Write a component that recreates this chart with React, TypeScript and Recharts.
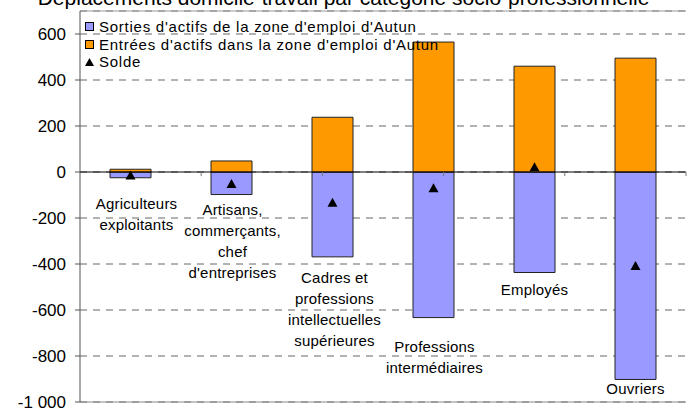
import React from 'react';
import { ComposedChart, Bar, Line, XAxis, YAxis, CartesianGrid, ReferenceLine, Legend, LabelList } from 'recharts';

const TITLE = 'Déplacements domicile-travail par catégorie socio-professionnelle';

const CATEGORIES = [
  'Agriculteurs\nexploitants',
  'Artisans,\ncommerçants,\nchef\nd\'entreprises',
  'Cadres et\nprofessions\nintellectuelles\nsupérieures',
  'Professions\nintermédiaires',
  'Employés',
  'Ouvriers',
];
const SORTIES = [-25, -98, -369, -633, -437, -902];
const ENTREES = [12, 48, 238, 565, 460, 495];
const SOLDE = [-13, -50, -131, -68, 23, -407];
const Y_TICKS = [-1000, -800, -600, -400, -200, 0, 200, 400, 600];
const SERIES_NAMES = [
  "Sorties d'actifs de la zone d'emploi d'Autun",
  "Entrées d'actifs dans la zone d'emploi d'Autun",
  'Solde',
];

// layout only: how far below each blue bar its category label sits
const LABEL_GAP = [26, 15, 21, 29, 17, 9];
const LABEL_DX = [6, 1, 2, 1, 0, 0];

const FONT = '"Liberation Sans", Arial, sans-serif';
const BLUE = '#9999FF';
const ORANGE = '#FF9900';

const data = CATEGORIES.map((name, i) => ({
  name,
  sorties: SORTIES[i],
  entrees: ENTREES[i],
  solde: SOLDE[i],
}));

const fmt = (v: number) => String(v).replace(/(\d)(\d{3})$/, '$1 $2');

const Triangle = (props: any) => {
  const { cx, cy } = props;
  if (cx == null || cy == null) return null;
  return <path d={`M${cx - 5},${cy + 4.5}L${cx + 5},${cy + 4.5}L${cx},${cy - 4.5}Z`} fill="#000" />;
};

const CategoryLabel = (props: any) => {
  const { x, y, width, height, value, index } = props;
  const bottom = Math.max(y, y + height);
  const cx = x + width / 2 + LABEL_DX[index];
  const lines = String(value).split('\n');
  return (
    <text x={cx} y={bottom + LABEL_GAP[index]} textAnchor="middle" fontSize={15} fontFamily={FONT} fill="#000" letterSpacing={0.2}>
      {lines.map((l, i) => (
        <tspan key={i} x={cx} dy={i === 0 ? '0.355em' : 21}>{l}</tspan>
      ))}
    </text>
  );
};

const LegendBox = () => (
  <div style={{ fontFamily: FONT, fontSize: 15, color: '#000', letterSpacing: 0.75 }}>
    {SERIES_NAMES.map((n, i) => (
      <div key={n} style={{ display: 'flex', alignItems: 'center', height: 17.5, whiteSpace: 'nowrap' }}>
        <span style={{ width: 14, display: 'inline-flex' }}>
          {i < 2 ? (
            <span style={{ width: 9, height: 9, boxSizing: 'border-box', border: '1px solid #000', background: i === 0 ? BLUE : ORANGE }} />
          ) : (
            <svg width={9} height={8}><path d="M0,8L9,8L4.5,0Z" fill="#000" /></svg>
          )}
        </span>
        {n}
      </div>
    ))}
  </div>
);

export default function App() {
  return (
    <div style={{ position: 'absolute', left: 0, top: 0, width: 691, height: 408, overflow: 'hidden', background: '#fff' }}>
      <div style={{ position: 'absolute', left: 0, top: -13, width: 687, textAlign: 'center', fontFamily: FONT, fontSize: 21, lineHeight: '21px', whiteSpace: 'nowrap', color: '#000' }}>
        {TITLE}
      </div>
      <ComposedChart width={691} height={408} data={data} stackOffset="sign" margin={{ top: 11, right: 5, bottom: 6, left: 0 }}>
        <CartesianGrid vertical={false} stroke="#666" strokeDasharray="7 6" />
        <XAxis dataKey="name" hide />
        <XAxis xAxisId="n" type="number" domain={[0, 6]} allowDataOverflow hide />
        <YAxis
          domain={[-1000, 700]}
          ticks={Y_TICKS}
          interval={0}
          allowDataOverflow
          width={80}
          tickFormatter={fmt}
          tickSize={5}
          tickMargin={9}
          axisLine={{ stroke: '#555' }}
          tickLine={{ stroke: '#555' }}
          tick={{ fontSize: 17, fontFamily: FONT, fill: '#000' }}
        />
        <Bar dataKey="sorties" stackId="s" fill={BLUE} stroke="#222" barSize={41} isAnimationActive={false}>
          <LabelList dataKey="name" content={CategoryLabel} />
        </Bar>
        <Bar dataKey="entrees" stackId="s" fill={ORANGE} stroke="#222" barSize={41} isAnimationActive={false} />
        <Line dataKey="solde" stroke="none" dot={Triangle} activeDot={false} isAnimationActive={false} />
        <ReferenceLine y={0} stroke="#000" />
        <ReferenceLine y={700} stroke="#999" />
        <ReferenceLine y={-1000} stroke="#888" />
        {[1, 2, 3, 4, 5].map((k) => (
          <ReferenceLine key={k} xAxisId="n" segment={[{ x: k, y: 0 }, { x: k, y: -18 }]} stroke="#777" />
        ))}
        <Legend
          layout="vertical"
          align="center"
          verticalAlign="middle"
          content={LegendBox}
          wrapperStyle={{ left: 85, top: 18, width: 'auto' }}
        />
      </ComposedChart>
    </div>
  );
}
